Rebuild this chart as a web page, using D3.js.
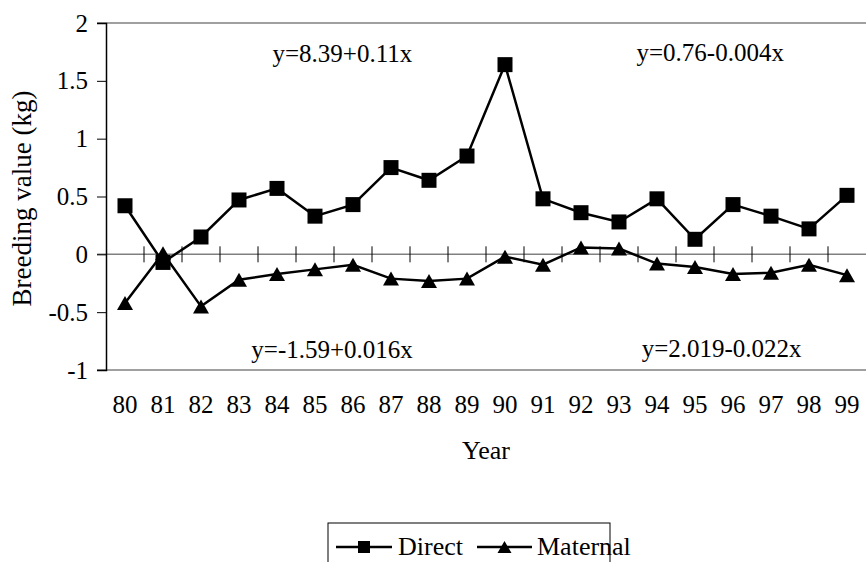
<!DOCTYPE html>
<html>
<head>
<meta charset="utf-8">
<script src="https://cdn.jsdelivr.net/npm/d3@7"></script>
<style>
  body { margin: 0; background: #fff; }
  text { font-family: "Liberation Serif", "Times New Roman", serif; fill: #000; }
</style>
</head>
<body>
<div id="wrapper"></div>
<script>
// data
const years = ["80","81","82","83","84","85","86","87","88","89",
               "90","91","92","93","94","95","96","97","98","99"]
const direct = [0.42,-0.07,0.15,0.47,0.57,0.33,0.43,0.75,0.64,0.85,
                1.64,0.48,0.36,0.28,0.48,0.13,0.43,0.33,0.22,0.51]
const maternal = [-0.42,0.01,-0.45,-0.22,-0.17,-0.13,-0.09,-0.21,-0.23,-0.21,
                  -0.02,-0.09,0.06,0.05,-0.08,-0.11,-0.17,-0.16,-0.09,-0.18]
const yTicks = [-1,-0.5,0,0.5,1,1.5,2]
const equations = [
  {text:"y=8.39+0.11x",   x:6.22,  y:1.66},
  {text:"y=0.76-0.004x",  x:15.9,  y:1.67},
  {text:"y=-1.59+0.016x", x:5.95,  y:-0.90},
  {text:"y=2.019-0.022x", x:16.2,  y:-0.89},
]
const seriesNames = ["Direct","Maternal"]

const dimensions = {
  width: 866,
  height: 562,
  margin: {top: 23, right: 0, bottom: 192, left: 106},
}
dimensions.boundedWidth = dimensions.width - dimensions.margin.left - dimensions.margin.right
dimensions.boundedHeight = dimensions.height - dimensions.margin.top - dimensions.margin.bottom

const svg = d3.select("#wrapper").append("svg")
    .attr("width", dimensions.width)
    .attr("height", dimensions.height)

const bounds = svg.append("g")
    .attr("transform", `translate(${dimensions.margin.left},${dimensions.margin.top})`)

// scales
const xScale = d3.scaleBand()
    .domain(years)
    .range([0, dimensions.boundedWidth])
const yScale = d3.scaleLinear()
    .domain([-1, 2])
    .range([dimensions.boundedHeight, 0])
const xCenter = d => xScale(d) + xScale.bandwidth() / 2
const xIndex = i => i * xScale.bandwidth()

// gray horizontal lines at top, zero and bottom
bounds.selectAll(".hline")
  .data([2, 0, -1])
  .join("line")
    .attr("x1", -9)
    .attr("x2", dimensions.boundedWidth)
    .attr("y1", d => yScale(d))
    .attr("y2", d => yScale(d))
    .attr("stroke", "#808080")
    .attr("stroke-width", 1.5)

// y axis
const yAxis = bounds.append("g")
    .call(d3.axisLeft(yScale).tickValues(yTicks).tickSize(9).tickPadding(9)
      .tickFormat(d => String(d)))
yAxis.attr("font-family", null)
yAxis.select(".domain").attr("stroke", "#000").attr("stroke-width", 1.5)
yAxis.selectAll(".tick line").attr("stroke", "#000")
yAxis.selectAll("text").attr("font-size", 25)

// cross ticks on zero line at category boundaries
bounds.selectAll(".xtick")
  .data(years.slice(1))
  .join("line")
    .attr("x1", d => xScale(d))
    .attr("x2", d => xScale(d))
    .attr("y1", yScale(0) - 8)
    .attr("y2", yScale(0) + 8)
    .attr("stroke", "#000")
    .attr("stroke-width", 1)

// x labels
bounds.selectAll(".xlabel")
  .data(years)
  .join("text")
    .attr("x", d => xCenter(d))
    .attr("y", dimensions.boundedHeight + 43)
    .attr("text-anchor", "middle")
    .attr("font-size", 25)
    .text(d => d)

// axis titles
bounds.append("text")
    .attr("x", dimensions.boundedWidth / 2)
    .attr("y", dimensions.boundedHeight + 89)
    .attr("text-anchor", "middle")
    .attr("font-size", 26)
    .text("Year")

svg.append("text")
    .attr("transform", `translate(31,${dimensions.margin.top + dimensions.boundedHeight / 2 + 2}) rotate(-90)`)
    .attr("text-anchor", "middle")
    .attr("font-size", 27)
    .text("Breeding value (kg)")

// lines
const lineGenerator = d3.line()
    .x((d, i) => xCenter(years[i]))
    .y(d => yScale(d))

const squarePath = s => `M${-s/2},${-s/2}h${s}v${s}h${-s}Z`
const trianglePath = (w, h) => `M0,${-h/2}L${w/2},${h/2}L${-w/2},${h/2}Z`

bounds.append("path")
    .attr("d", lineGenerator(maternal))
    .attr("fill", "none")
    .attr("stroke", "#000")
    .attr("stroke-width", 2.5)
bounds.append("path")
    .attr("d", lineGenerator(direct))
    .attr("fill", "none")
    .attr("stroke", "#000")
    .attr("stroke-width", 2.5)

bounds.selectAll(".tri")
  .data(maternal)
  .join("path")
    .attr("transform", (d, i) => `translate(${xCenter(years[i])},${yScale(d)})`)
    .attr("d", trianglePath(16, 14))
    .attr("fill", "#000")

bounds.selectAll(".sq")
  .data(direct)
  .join("path")
    .attr("transform", (d, i) => `translate(${xCenter(years[i])},${yScale(d)})`)
    .attr("d", squarePath(15))
    .attr("fill", "#000")

// regression equations
bounds.selectAll(".eq")
  .data(equations)
  .join("text")
    .attr("x", d => xIndex(d.x))
    .attr("y", d => yScale(d.y))
    .attr("text-anchor", "middle")
    .attr("font-size", 25)
    .text(d => d.text)

// legend
const legend = svg.append("g").attr("transform", "translate(328,523)")
legend.append("rect")
    .attr("width", 282)
    .attr("height", 60)
    .attr("fill", "#fff")
    .attr("stroke", "#000")
    .attr("stroke-width", 1)

const legendItems = [
  {name: seriesNames[0], x: 8,   lineW: 56, textGap: 62, marker: squarePath(12)},
  {name: seriesNames[1], x: 149, lineW: 55, textGap: 60, marker: trianglePath(14, 12)},
]
const item = legend.selectAll(".item")
  .data(legendItems)
  .join("g")
    .attr("transform", d => `translate(${d.x},0)`)
item.append("line")
    .attr("x1", 0).attr("x2", d => d.lineW)
    .attr("y1", 24).attr("y2", 24)
    .attr("stroke", "#000").attr("stroke-width", 2.5)
item.append("path")
    .attr("transform", d => `translate(${d.lineW / 2},24)`)
    .attr("d", d => d.marker)
    .attr("fill", "#000")
item.append("text")
    .attr("x", d => d.textGap)
    .attr("y", 32)
    .attr("font-size", 26)
    .text(d => d.name)
</script>
</body>
</html>
